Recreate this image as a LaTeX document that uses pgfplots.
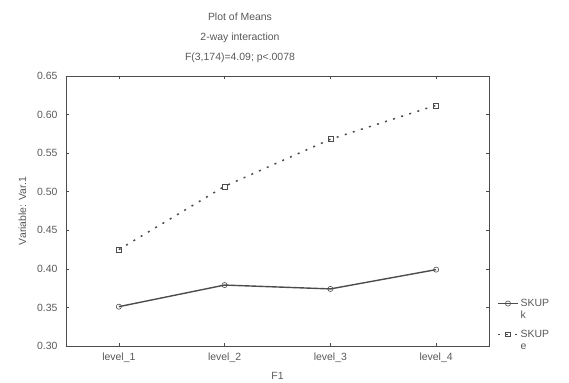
\documentclass[border=0pt]{standalone}
\usepackage{pgfplots}
\pgfplotsset{compat=1.18}
\usepackage{fontspec}
\setmainfont{Liberation Sans}
\definecolor{txt}{gray}{0.35}
\definecolor{ln}{gray}{0.3}
\begin{document}
\begin{tikzpicture}
\begin{axis}[
  at={(0,0)}, anchor=south west,
  scale only axis, width=423bp, height=270bp,
  xmin=0.5, xmax=4.5, ymin=0.30, ymax=0.65,
  xtick={1,2,3,4}, xticklabels={level\_1,level\_2,level\_3,level\_4},
  ytick={0.30,0.35,0.40,0.45,0.50,0.55,0.60,0.65},
  yticklabel style={/pgf/number format/fixed,/pgf/number format/fixed zerofill,/pgf/number format/precision=2, xshift=-5bp},
  /pgf/number format/assume math mode=true,
  ticklabel style={font=\fontsize{10.5}{12}\selectfont, text=txt},
  xticklabel style={yshift=-3bp},
  tick align=inside, major tick length=3bp, tick style={ln, line width=0.5pt},
  axis line style={ln, line width=0.8pt},
  xlabel={F1}, ylabel={Variable: Var.1},
  label style={font=\fontsize{10.5}{12}\selectfont, text=txt},
  xlabel style={yshift=-3bp},
  ylabel style={yshift=4bp},
  legend style={at={(axis cs:4.5,0.30)}, anchor=north west, xshift=8bp, yshift=49bp,
    draw=none, fill=none, font=\fontsize{10.5}{12}\selectfont, text=txt,
    cells={align=left, anchor=west}, row sep=6bp, inner sep=0pt},
  legend image code/.code={\draw[#1] (0bp,6bp) -- (20bp,6bp); \draw[#1, solid, mark repeat=1] plot coordinates {(10bp,6bp)};},
]
\addplot[ln, line width=1.4pt, mark=o, mark size=2.6pt, mark options={solid, fill=white, line width=0.6pt}]
  coordinates {(1,0.351) (2,0.379) (3,0.374) (4,0.399)};
\addlegendentry{SKUP\\k}
\addplot[ln, line width=1.5pt, dash pattern=on 2pt off 6.5pt, mark=square, mark size=2.5pt, mark options={solid, fill=white, line width=0.6pt}]
  coordinates {(1,0.425) (2,0.507) (3,0.568) (4,0.612)};
\addlegendentry{SKUP\\e}
\end{axis}
\node[text=txt, font=\fontsize{10.5}{12}\selectfont] at (174bp,329bp) {Plot of Means};
\node[text=txt, font=\fontsize{10.5}{12}\selectfont] at (174bp,308bp) {2-way interaction};
\node[text=txt, font=\fontsize{10.5}{12}\selectfont] at (174bp,288bp) {F(3,174)=4.09; p<.0078};
\path[use as bounding box] (-66bp,-37bp) rectangle (503bp,346bp);
\end{tikzpicture}
\end{document}
